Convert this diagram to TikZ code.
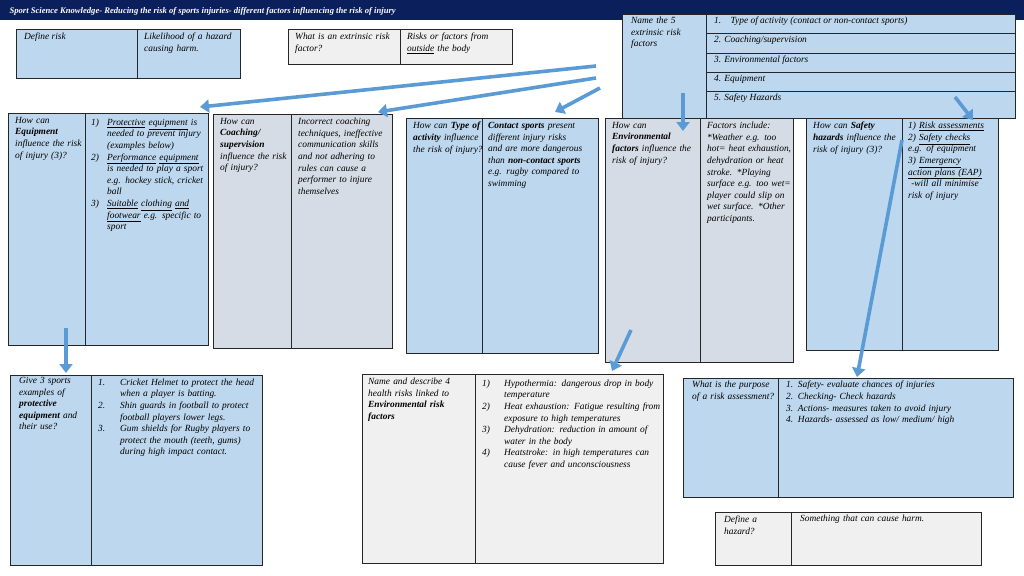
\documentclass[tikz,border=0pt]{standalone}
\usepackage{fontspec}
\setmainfont{Liberation Serif}
\usetikzlibrary{arrows.meta}
\definecolor{navy}{HTML}{0A1F5C}
\definecolor{cellblue}{HTML}{BDD7EE}
\definecolor{cellgrey}{HTML}{D6DCE5}
\definecolor{cellpale}{HTML}{F0F0F0}
\definecolor{arrowblue}{HTML}{5B9BD5}
\newcommand{\cellfont}{\fontsize{9.4}{11.6}\selectfont\itshape\hyphenpenalty=10000\exhyphenpenalty=10000}
\newcommand{\ul}[1]{\underline{#1}}
\begin{document}
\begin{tikzpicture}[%
  x=1pt, y=-1pt,
  cell/.style={draw=black!85, line width=0.9pt, anchor=north west, inner sep=0pt, outer sep=0pt},
  txt/.style={anchor=north west, align=left, font=\cellfont, inner xsep=2pt, inner ysep=4pt},
  bar/.style={draw=black!85, line width=0.9pt},
  pointer/.style={draw=arrowblue, line width=3.6pt, -{Triangle[length=9pt, width=13pt]}},
  ]
  \useasboundingbox (0,0) rectangle (1024,575);
  % title bar
  \fill[navy] (0,0) rectangle (1024,20);
  \node[anchor=west, text=white, font=\fontsize{8.6}{9}\selectfont\itshape\bfseries] (title) at (6,11)
    {Sport Science Knowledge- Reducing the risk of sports injuries- different factors influencing the risk of injury};

  % define risk
  \node[cell, fill=cellblue, minimum width=224, minimum height=49] (risk) at (16,29) {};
  \draw[bar] (137,29) -- (137,78);
  \node[txt] (riskq) at (22,29) {Define risk};
  \node[txt, text width=98] (riska) at (142,29) {Likelihood of a hazard causing harm.};

  % extrinsic
  \node[cell, fill=cellpale, minimum width=224, minimum height=35] (extr) at (288,29) {};
  \draw[bar] (400,29) -- (400,64);
  \node[txt, text width=105] (extrq) at (293,29) {What is an extrinsic risk factor?};
  \node[txt, text width=105] (extra) at (405,29) {Risks or factors from \ul{outside} the body};

  % five factors
  \node[cell, fill=cellblue, minimum width=393, minimum height=104] (five) at (622,14) {};
  \draw[bar] (706,14) -- (706,118);
  \foreach \yy in {33,53,72,91} \draw[bar] (706,\yy) -- (1015,\yy);
  \node[txt, text width=72] (fiveq) at (629,13) {Name the 5 extrinsic risk factors};
  \node[txt] (f1) at (712,13) {1.\quad Type of activity (contact or non-contact sports)};
  \node[txt] (f2) at (712,32) {2. Coaching/supervision};
  \node[txt] (f3) at (712,52) {3. Environmental factors};
  \node[txt] (f4) at (712,71) {4. Equipment};
  \node[txt] (f5) at (712,90) {5. Safety Hazards};

  % equipment
  \node[cell, fill=cellblue, minimum width=200, minimum height=232] (equip) at (8,113) {};
  \draw[bar] (85,113) -- (85,345);
  \node[txt, text width=70] (equipq) at (13,113) {How can \textbf{Equipment} influence the risk of injury (3)?};
  \node[txt, text width=114] (equipa) at (89,113) {%
    \begin{tabular}{@{}p{16pt}@{}p{98pt}@{}}
    1) & \ul{Protective} \ul{equipment} is needed to prevent injury (examples below)\\
    2) & \ul{Performance} \ul{equipment} is needed to play a sport e.g. hockey stick, cricket ball\\
    3) & \ul{Suitable} \ul{clothing} \ul{and} \ul{footwear} e.g. specific to sport
    \end{tabular}};

  % coaching
  \node[cell, fill=cellgrey, minimum width=179, minimum height=234] (coach) at (213,114) {};
  \draw[bar] (291,114) -- (291,348);
  \node[txt, text width=72] (coachq) at (218,114) {How can \textbf{Coaching/ supervision} influence the risk of injury?};
  \node[txt, text width=92] (coacha) at (296,114) {Incorrect coaching techniques, ineffective communication skills and not adhering to rules can cause a performer to injure themselves};

  % type of activity
  \node[cell, fill=cellblue, minimum width=192, minimum height=235] (type) at (406,118) {};
  \draw[bar] (482,118) -- (482,353);
  \node[txt, text width=70] (typeq) at (411,118) {How can \textbf{Type of activity} influence the risk of injury?};
  \node[txt, text width=110] (typea) at (486,118) {\textbf{Contact sports} present different injury risks and are more dangerous than \textbf{non-contact sports} e.g. rugby compared to swimming};

  % environmental
  \node[cell, fill=cellgrey, minimum width=188, minimum height=244] (env) at (605,118) {};
  \draw[bar] (700,118) -- (700,362);
  \node[txt, text width=86] (envq) at (610,118) {How can \textbf{Environmental} \textbf{factors} influence the risk of injury?};
  \node[txt, text width=86] (enva) at (705,118) {Factors include: *Weather e.g. too hot= heat exhaustion, dehydration or heat stroke. *Playing surface e.g. too wet= player could slip on wet surface. *Other participants.};

  % safety hazards
  \node[cell, fill=cellblue, minimum width=192, minimum height=232] (safe) at (806,118) {};
  \draw[bar] (902,118) -- (902,350);
  \node[txt, text width=88] (safeq) at (811,118) {How can \textbf{Safety hazards} influence the risk of injury (3)?};
  \node[txt, text width=92] (safea) at (906,118) {1) \ul{Risk assessments}\\2) \ul{Safety checks}\\e.g. of equipment\\3) \ul{Emergency}\\\ul{action plans (EAP)}\\\ -will all minimise\\risk of injury};

  % protective equipment examples
  \node[cell, fill=cellblue, minimum width=252, minimum height=190] (prot) at (10,375) {};
  \draw[bar] (91,375) -- (91,565);
  \node[txt, text width=74] (protq) at (17,373) {Give 3 sports examples of \textbf{protective equipment} and their use?};
  \node[txt, text width=162] (prota) at (96,373) {%
    \begin{tabular}{@{}p{22pt}@{}p{140pt}@{}}
    1. & Cricket Helmet to protect the head when a player is batting.\\
    2. & Shin guards in football to protect football players lower legs.\\
    3. & Gum shields for Rugby players to protect the mouth (teeth, gums) during high impact contact.
    \end{tabular}};

  % health risks
  \node[cell, fill=cellpale, minimum width=301, minimum height=189] (health) at (362,374) {};
  \draw[bar] (475,374) -- (475,563);
  \node[txt, text width=104] (healthq) at (366,374) {Name and describe 4 health risks linked to \textbf{Environmental risk factors}};
  \node[txt, text width=182] (healtha) at (480,374) {%
    \begin{tabular}{@{}p{22pt}@{}p{160pt}@{}}
    1) & Hypothermia: dangerous drop in body temperature\\
    2) & Heat exhaustion: Fatigue resulting from exposure to high temperatures\\
    3) & Dehydration: reduction in amount of water in the body\\
    4) & Heatstroke: in high temperatures can cause fever and unconsciousness
    \end{tabular}};

  % risk assessment purpose
  \node[cell, fill=cellblue, minimum width=330, minimum height=119] (purp) at (683,378) {};
  \draw[bar] (778,378) -- (778,497);
  \node[txt, text width=82] (purpq) at (690,377) {What is the purpose of a risk assessment?};
  \node[txt, text width=225] (purpa) at (784,377) {1. Safety- evaluate chances of injuries\\2. Checking- Check hazards\\3. Actions- measures taken to avoid injury\\4. Hazards- assessed as low/ medium/ high};

  % define hazard
  \node[cell, fill=cellpale, minimum width=266, minimum height=53] (hazard) at (715,512) {};
  \draw[bar] (791,512) -- (791,565);
  \node[txt, text width=50] (hazardq) at (722,512) {Define a hazard?};
  \node[txt, text width=180] (hazarda) at (798,511) {Something that can cause harm.};

  % arrows
  \coordinate (a1s) at (596,66);  \coordinate (a1e) at (200,107);
  \coordinate (a2s) at (596,78);  \coordinate (a2e) at (378,112);
  \coordinate (a3s) at (600,88);  \coordinate (a3e) at (555,112);
  \coordinate (a4s) at (683,93);  \coordinate (a4e) at (683,131);
  \coordinate (a5s) at (955,97);  \coordinate (a5e) at (973,120);
  \coordinate (a6s) at (66,328);  \coordinate (a6e) at (66,373);
  \coordinate (a7s) at (631,330); \coordinate (a7e) at (612,371);
  \coordinate (a8s) at (902,140); \coordinate (a8e) at (857,377);
  \foreach \i in {1,...,8} \draw[pointer] (a\i s) -- (a\i e);
\end{tikzpicture}
\end{document}
